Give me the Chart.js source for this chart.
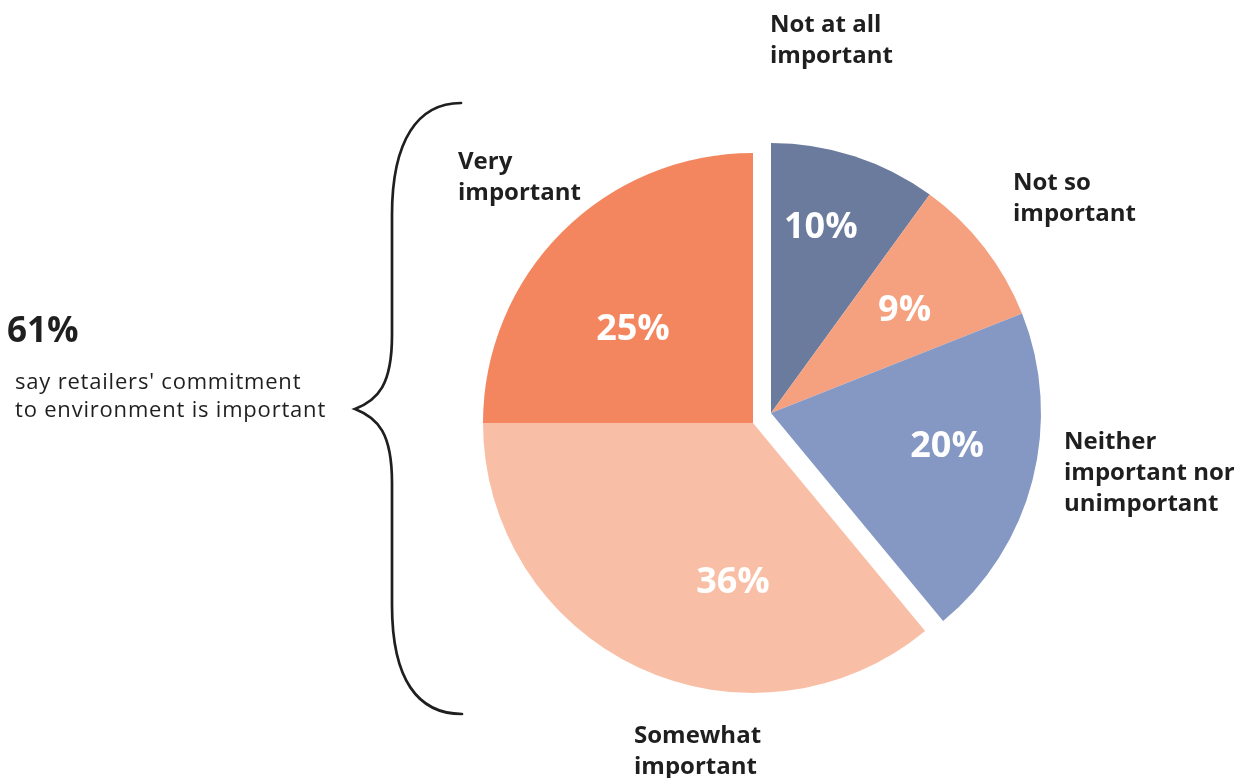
<!DOCTYPE html>
<html>
<head>
<meta charset="utf-8">
<script src="https://cdn.jsdelivr.net/npm/chart.js@4/dist/chart.umd.min.js"></script>
<style>
  html, body { margin: 0; padding: 0; background: #fff; }
  #pie { display: block; }
</style>
</head>
<body>
<canvas id="pie" width="1248" height="778"></canvas>
<script>
// slices go clockwise from 12 o'clock
const categories = [
  "Not at all important",
  "Not so important",
  "Neither important nor unimportant",
  "Somewhat important",
  "Very important"
];
const shares = [10, 9, 20, 36, 25];
const sliceColors = ["#6a7b9d", "#f5a17f", "#8598c3", "#f9bfa6", "#f4865f"];

// text drawn next to each slice, one entry per line
const categoryLines = [
  ["Not at all", "important"],
  ["Not so", "important"],
  ["Neither", "important nor", "unimportant"],
  ["Somewhat", "important"],
  ["Very", "important"]
];

const importantGroup = [3, 4];
const otherGroup = [0, 1, 2];
const headlineText = "say retailers' commitment\nto environment is important";

const FONT = "'Open Sans', 'Noto Sans', sans-serif";
const INK = "#1f1f1f";

// the "not important" half is pulled away from the rest
const explode = { dx: 18, dy: -10 };

// where the % labels sit: fraction of radius, and angle nudge in degrees
const pctPlacement = [
  { r: 0.713, nudge: -3 },
  { r: 0.626, nudge: 0 },
  { r: 0.663, nudge: -4 },
  { r: 0.593, nudge: -18 },
  { r: 0.564, nudge: -7 }
];

// anchor (left x, first baseline) of each category label
const labelAnchors = [
  { x: 770, y: 32 },
  { x: 1013, y: 190 },
  { x: 1064, y: 449 },
  { x: 634, y: 743 },
  { x: 458, y: 169 }
];
const LINE_H = 31;

const explodePlugin = {
  id: "explode",
  afterDatasetsUpdate(chart) {
    const meta = chart.getDatasetMeta(0);
    otherGroup.forEach(i => {
      const arc = meta.data[i];
      arc.x += explode.dx;
      arc.y += explode.dy;
    });
  }
};

const pctLabels = {
  id: "pctLabels",
  afterDatasetsDraw(chart) {
    const ctx = chart.ctx;
    const meta = chart.getDatasetMeta(0);
    ctx.save();
    ctx.fillStyle = "#fff";
    ctx.font = `700 36px ${FONT}`;
    ctx.textAlign = "center";
    ctx.textBaseline = "middle";
    meta.data.forEach((arc, i) => {
      const p = pctPlacement[i];
      const mid = (arc.startAngle + arc.endAngle) / 2 + p.nudge * Math.PI / 180;
      const d = arc.outerRadius * p.r;
      ctx.fillText(shares[i] + "%", arc.x + Math.cos(mid) * d, arc.y + Math.sin(mid) * d + 1);
    });
    ctx.restore();
  }
};

const annotations = {
  id: "annotations",
  afterDraw(chart) {
    const ctx = chart.ctx;
    ctx.save();
    ctx.fillStyle = INK;
    ctx.textAlign = "left";
    ctx.textBaseline = "alphabetic";

    // category names
    ctx.font = `700 24px ${FONT}`;
    categoryLines.forEach((lines, i) => {
      const a = labelAnchors[i];
      lines.forEach((line, j) => ctx.fillText(line, a.x, a.y + j * LINE_H));
    });

    // headline figure on the left
    const total = importantGroup.reduce((s, i) => s + shares[i], 0);
    ctx.font = `700 35px ${FONT}`;
    ctx.fillText(total + "%", 7, 342);
    ctx.font = `400 22px ${FONT}`;
    ctx.letterSpacing = "0.8px";
    headlineText.split("\n").forEach((line, j) => ctx.fillText(line, 15, 389 + j * 28));
    ctx.letterSpacing = "0px";

    // curly brace grouping the two "important" slices
    ctx.strokeStyle = INK;
    ctx.lineWidth = 2.7;
    ctx.lineCap = "round";
    ctx.lineJoin = "miter";
    ctx.beginPath();
    ctx.moveTo(461, 103);
    ctx.bezierCurveTo(418, 103, 392, 140, 392, 215);
    ctx.lineTo(392, 335);
    ctx.bezierCurveTo(392, 385, 378, 400, 355, 409);
    ctx.bezierCurveTo(378, 418, 392, 433, 392, 483);
    ctx.lineTo(392, 605);
    ctx.bezierCurveTo(392, 680, 418, 714, 462, 714);
    ctx.stroke();
    ctx.restore();
  }
};

new Chart(document.getElementById("pie"), {
  type: "pie",
  data: {
    labels: categories,
    datasets: [{
      data: shares,
      backgroundColor: sliceColors,
      borderWidth: 0,
      hoverBorderWidth: 0,
      offset: 0,
      hoverOffset: 0
    }]
  },
  options: {
    responsive: false,
    animation: false,
    events: [],
    layout: { padding: { top: 153, bottom: 85, left: 483, right: 225 } },
    plugins: {
      legend: { display: false },
      tooltip: { enabled: false }
    }
  },
  plugins: [explodePlugin, pctLabels, annotations]
});
</script>
</body>
</html>
